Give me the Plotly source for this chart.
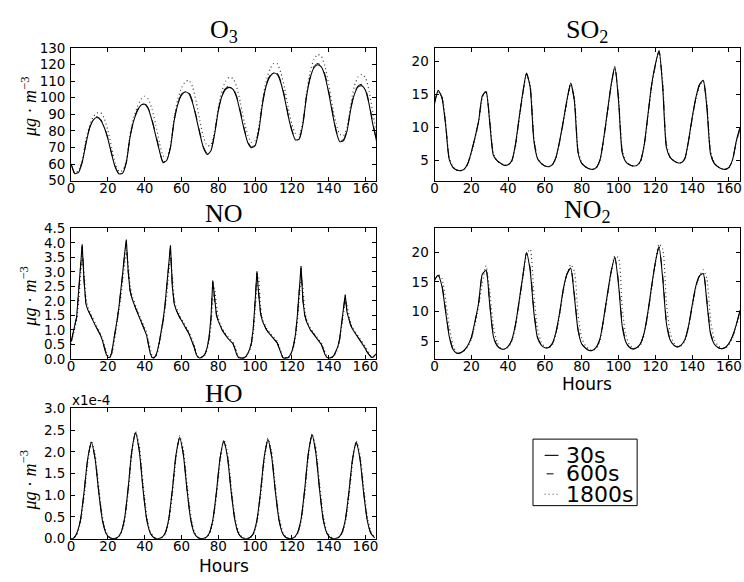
import plotly.graph_objects as go

# ---------------- data ----------------
hours_even = list(range(0, 167, 2))          # O3, SO2, NO2 sampling hours
hours_no = list(range(0, 167))               # NO sampling hours
hours_ho = [0] + list(range(1, 166, 2))      # HO sampling hours

o3_30s = [60, 54.2, 55, 61, 72, 81.5, 86.5, 88, 86.5, 82,
          75, 66, 58, 54, 54.5, 61, 76, 86, 92, 95.5,
          96, 93, 86, 77, 68, 60.8, 62.3, 70, 86, 96,
          101.5, 103.5, 102.5, 97, 88, 78, 69.5, 65.8, 68, 78,
          92, 101, 105, 106.2, 105, 100, 91, 81, 73, 69.8,
          71, 80, 96, 107, 112.5, 114.8, 114, 109, 100, 89,
          80, 74.5, 75, 84, 101, 112, 118, 119.8, 118.5, 113,
          103, 91, 80, 73.5, 74, 80, 93, 102, 106.5, 107.2,
          104.5, 96, 84, 74]
o3_600s = [60, 54.3, 55.6, 61.2, 72.3, 81.9, 87, 88.5, 87, 82.5,
           75.5, 66.5, 58.3, 54.2, 54.7, 61.2, 76.3, 86.4, 92.6, 96.1,
           96.6, 93.6, 86.6, 77.6, 68.5, 61.2, 62.5, 70.3, 86.3, 96.6,
           102.2, 104.3, 103.3, 97.8, 88.8, 78.8, 70.2, 66.3, 68.4, 78.4,
           92.5, 101.6, 105.8, 107, 105.8, 100.8, 91.8, 81.8, 73.7, 70.2,
           71.5, 80.4, 96.5, 107.6, 113.3, 115.6, 114.9, 109.9, 100.9, 89.8,
           80.7, 75.1, 75.5, 84.4, 101.5, 112.7, 118.8, 120.6, 119.4, 113.9,
           103.9, 91.9, 80.8, 74.2, 74.6, 80.5, 93.5, 102.7, 107.2, 108,
           105.3, 96.8, 84.8, 74.7]
o3_1800s = [60, 54.5, 56, 62, 74.5, 83, 88.5, 90.8, 91, 87.5,
            80, 70, 60.5, 55.5, 56, 62, 77.5, 88, 94.5, 99,
            100.8, 99, 93, 83.5, 73, 65, 64, 71, 88, 99,
            106, 109.5, 110.5, 106.5, 97.5, 86, 76, 71, 71.5, 80,
            94, 104, 110, 112.2, 111.5, 106.5, 97, 86, 77.5, 73,
            74, 82, 98, 110, 117, 120.5, 120.5, 115, 106, 94,
            84, 78.5, 78, 86, 103, 116, 123, 126, 125, 119,
            108, 95.5, 84.5, 78, 77, 82, 96, 107, 112.5, 114,
            112, 104, 91, 78]

so2_30s = [13.7, 15.6, 14.5, 10.5, 5.2, 4.0, 3.6, 3.5, 3.7, 4.5,
           6.3, 8.5, 11.0, 14.8, 15.4, 10.8, 5.8, 5.0, 4.6, 4.3,
           4.4, 5.0, 7.5, 11.5, 15.3, 18.2, 16.0, 8.0, 5.3, 4.6,
           4.2, 4.1, 4.4, 5.5, 8.0, 11.0, 14.2, 16.7, 14.0, 6.2,
           4.6, 4.1, 3.8, 3.7, 4.0, 5.2, 8.5, 12.5, 16.5, 19.2,
           14.0, 6.2, 4.8, 4.4, 4.2, 4.3, 5.0, 7.5, 12.0, 16.5,
           19.5, 21.6, 16.0, 7.0, 5.5, 5.0, 4.7, 4.7, 5.3, 8.0,
           11.5, 14.5, 16.5, 17.1, 13.0, 6.0, 4.6, 4.1, 3.8, 3.7,
           4.0, 5.2, 8.0, 10.0]
so2_600s = [13.6, 15.5, 14.6, 10.7, 5.3, 4.0, 3.6, 3.5, 3.7, 4.5,
            6.3, 8.5, 11.0, 14.7, 15.4, 11.0, 5.9, 5.0, 4.6, 4.3,
            4.4, 5.0, 7.4, 11.4, 15.2, 18.1, 16.1, 8.2, 5.3, 4.6,
            4.2, 4.1, 4.4, 5.5, 7.9, 10.9, 14.1, 16.6, 14.2, 6.4,
            4.6, 4.1, 3.8, 3.7, 4.0, 5.2, 8.4, 12.4, 16.4, 19.1,
            14.3, 6.4, 4.8, 4.4, 4.2, 4.3, 5.0, 7.4, 11.9, 16.4,
            19.4, 21.5, 16.3, 7.2, 5.5, 5.0, 4.7, 4.7, 5.3, 7.9,
            11.4, 14.4, 16.4, 17.0, 13.2, 6.2, 4.6, 4.1, 3.8, 3.7,
            4.0, 5.2, 7.9, 9.9]
so2_1800s = [13.5, 15.4, 14.8, 11.0, 5.5, 4.1, 3.6, 3.5, 3.7, 4.4,
             6.1, 8.3, 10.8, 14.5, 15.6, 11.4, 6.1, 5.0, 4.6, 4.3,
             4.4, 4.9, 7.2, 11.2, 15.0, 18.0, 16.5, 8.6, 5.4, 4.6,
             4.2, 4.1, 4.3, 5.4, 7.8, 10.8, 13.9, 16.5, 14.6, 6.7,
             4.7, 4.1, 3.8, 3.7, 3.9, 5.1, 8.3, 12.2, 16.2, 19.0,
             14.8, 6.7, 4.9, 4.4, 4.2, 4.3, 4.9, 7.3, 11.7, 16.2,
             19.3, 21.4, 16.8, 7.5, 5.6, 5.0, 4.7, 4.7, 5.2, 7.8,
             11.2, 14.2, 16.3, 17.0, 13.6, 6.5, 4.7, 4.1, 3.8, 3.7,
             3.9, 5.1, 7.8, 9.7]

no_30s = [0.6, 0.9, 1.2, 1.45, 2.3, 3.3, 3.95, 2.7, 1.9, 1.7,
          1.55, 1.42, 1.3, 1.17, 1.05, 0.93, 0.8, 0.63, 0.38, 0.16,
          0.05, 0.04, 0.2, 0.55, 0.95, 1.35, 1.8, 2.3, 2.95, 3.6,
          4.12, 3.0, 2.35, 2.1, 1.9, 1.75, 1.6, 1.45, 1.3, 1.18,
          1.02, 0.82, 0.5, 0.18, 0.04, 0.03, 0.1, 0.3, 0.6, 0.95,
          1.35, 1.85, 2.5, 3.3, 3.92, 2.5, 1.9, 1.7, 1.55, 1.42,
          1.32, 1.22, 1.1, 0.98, 0.87, 0.72, 0.58, 0.38, 0.15, 0.05,
          0.02, 0.05, 0.1, 0.2, 0.4, 0.75, 1.4, 2.7, 2.0, 1.5,
          1.3, 1.12, 1.0, 0.9, 0.8, 0.72, 0.65, 0.6, 0.52, 0.35,
          0.15, 0.04, 0.02, 0.02, 0.03, 0.08, 0.18, 0.32, 0.55, 1.05,
          1.95, 3.02, 2.2, 1.55, 1.3, 1.15, 1.02, 0.93, 0.85, 0.77,
          0.7, 0.63, 0.55, 0.38, 0.17, 0.04, 0.02, 0.02, 0.04, 0.12,
          0.25, 0.5, 0.85, 1.5, 2.4, 3.2, 2.0, 1.5, 1.28, 1.12,
          1.0, 0.92, 0.83, 0.74, 0.66, 0.6, 0.5, 0.33, 0.15, 0.05,
          0.02, 0.03, 0.06, 0.13, 0.25, 0.42, 0.7, 1.2, 1.85, 2.22,
          1.6, 1.35, 1.15, 1.02, 0.93, 0.82, 0.72, 0.64, 0.57, 0.48,
          0.35, 0.22, 0.12, 0.06, 0.05, 0.1, 0.18]
no_600s = [0.58, 0.88, 1.18, 1.43, 2.25, 3.25, 3.88, 2.75, 1.92, 1.71,
           1.56, 1.43, 1.31, 1.18, 1.06, 0.94, 0.81, 0.64, 0.4, 0.17,
           0.05, 0.04, 0.19, 0.53, 0.93, 1.33, 1.78, 2.27, 2.9, 3.55,
           4.05, 3.05, 2.37, 2.11, 1.91, 1.76, 1.61, 1.46, 1.31, 1.19,
           1.03, 0.83, 0.52, 0.19, 0.04, 0.03, 0.1, 0.29, 0.58, 0.93,
           1.33, 1.82, 2.46, 3.25, 3.85, 2.55, 1.92, 1.71, 1.56, 1.43,
           1.33, 1.23, 1.11, 0.99, 0.88, 0.73, 0.59, 0.39, 0.16, 0.05,
           0.02, 0.05, 0.1, 0.19, 0.39, 0.73, 1.37, 2.65, 2.05, 1.52,
           1.31, 1.13, 1.01, 0.91, 0.81, 0.73, 0.66, 0.61, 0.53, 0.36,
           0.16, 0.04, 0.02, 0.02, 0.03, 0.08, 0.17, 0.31, 0.53, 1.02,
           1.9, 2.96, 2.25, 1.57, 1.31, 1.16, 1.03, 0.94, 0.86, 0.78,
           0.71, 0.64, 0.56, 0.39, 0.18, 0.04, 0.02, 0.02, 0.04, 0.11,
           0.24, 0.48, 0.83, 1.47, 2.35, 3.14, 2.05, 1.52, 1.29, 1.13,
           1.01, 0.93, 0.84, 0.75, 0.67, 0.61, 0.51, 0.34, 0.16, 0.05,
           0.02, 0.03, 0.06, 0.13, 0.24, 0.41, 0.68, 1.17, 1.8, 2.18,
           1.63, 1.37, 1.16, 1.03, 0.94, 0.83, 0.73, 0.65, 0.58, 0.49,
           0.36, 0.23, 0.13, 0.06, 0.05, 0.1, 0.18]
no_1800s = [0.5, 0.75, 1.05, 1.35, 1.9, 2.9, 3.6, 3.0, 2.1, 1.8,
            1.62, 1.5, 1.38, 1.25, 1.12, 1.0, 0.88, 0.72, 0.48, 0.24,
            0.09, 0.04, 0.12, 0.4, 0.8, 1.2, 1.6, 2.1, 2.7, 3.3,
            3.75, 3.3, 2.55, 2.2, 2.0, 1.83, 1.68, 1.52, 1.38, 1.25,
            1.1, 0.92, 0.62, 0.28, 0.08, 0.03, 0.07, 0.22, 0.5, 0.85,
            1.22, 1.65, 2.2, 2.95, 3.5, 2.9, 2.05, 1.78, 1.62, 1.5,
            1.38, 1.28, 1.17, 1.05, 0.93, 0.8, 0.65, 0.45, 0.2, 0.07,
            0.03, 0.03, 0.07, 0.15, 0.32, 0.62, 1.1, 2.0, 2.45, 1.85,
            1.42, 1.2, 1.05, 0.95, 0.85, 0.77, 0.7, 0.64, 0.57, 0.43,
            0.22, 0.07, 0.03, 0.02, 0.02, 0.06, 0.14, 0.27, 0.47, 0.85,
            1.6, 2.5, 2.8, 1.75, 1.38, 1.2, 1.08, 0.98, 0.9, 0.82,
            0.74, 0.67, 0.6, 0.45, 0.24, 0.08, 0.03, 0.02, 0.03, 0.09,
            0.2, 0.42, 0.75, 1.3, 2.1, 2.8, 2.45, 1.65, 1.35, 1.18,
            1.06, 0.97, 0.88, 0.79, 0.7, 0.63, 0.55, 0.4, 0.2, 0.08,
            0.03, 0.02, 0.05, 0.11, 0.22, 0.37, 0.62, 1.05, 1.6, 2.0,
            1.85, 1.48, 1.22, 1.07, 0.97, 0.87, 0.77, 0.68, 0.6, 0.52,
            0.4, 0.27, 0.15, 0.08, 0.05, 0.08, 0.15]

no2_30s = [15.3, 16.1, 14.3, 10.0, 5.8, 3.6, 2.95, 3.0, 3.4, 4.2,
           5.6, 8.3, 11.5, 16.3, 16.9, 11.2, 5.8, 4.2, 3.7, 3.65,
           4.1, 5.2, 7.8, 11.8, 16.0, 19.9, 16.8, 9.8, 5.5, 4.3,
           3.85, 3.9, 4.6, 6.5, 9.8, 13.8, 16.3, 17.3, 12.5, 6.8,
           4.5, 3.8, 3.4, 3.45, 4.0, 5.5, 9.0, 13.0, 16.8, 19.1,
           14.5, 7.5, 4.8, 3.9, 3.65, 3.9, 4.6, 6.5, 10.0, 14.3,
           18.3, 20.9, 15.5, 8.0, 5.2, 4.3, 4.0, 4.3, 5.2, 7.5,
           11.0, 14.3, 16.0, 16.4, 11.5, 6.2, 4.5, 3.9, 3.7, 3.9,
           4.6, 5.9, 7.8, 10.2]
no2_600s = [15.3, 16.1, 14.5, 10.3, 6.0, 3.7, 2.95, 3.0, 3.4, 4.2,
            5.5, 8.2, 11.4, 16.2, 17.0, 11.4, 6.0, 4.3, 3.7, 3.65,
            4.1, 5.1, 7.7, 11.7, 15.9, 19.9, 17.3, 10.2, 5.7, 4.4,
            3.9, 3.9, 4.5, 6.4, 9.7, 13.7, 16.3, 17.4, 12.9, 7.0,
            4.6, 3.8, 3.4, 3.45, 4.0, 5.4, 8.9, 12.9, 16.7, 19.1,
            14.9, 7.8, 4.9, 3.9, 3.65, 3.9, 4.6, 6.4, 9.9, 14.2,
            18.2, 20.9, 16.0, 8.3, 5.3, 4.3, 4.0, 4.3, 5.1, 7.4,
            10.9, 14.2, 16.0, 16.5, 11.9, 6.4, 4.6, 3.9, 3.7, 3.9,
            4.6, 5.8, 7.7, 10.1]
no2_1800s = [15.2, 16.2, 15.6, 12.0, 7.5, 4.3, 3.1, 3.0, 3.3, 4.0,
             5.3, 7.8, 11.0, 14.8, 17.7, 13.4, 7.5, 4.8, 3.9, 3.6,
             3.9, 5.0, 7.4, 11.3, 15.5, 19.6, 20.5, 13.0, 7.0, 4.8,
             4.0, 3.85, 4.4, 6.2, 9.4, 13.4, 16.2, 17.9, 16.8, 9.5,
             5.5, 4.2, 3.6, 3.4, 3.8, 5.2, 8.6, 12.6, 16.5, 19.4,
             19.0, 10.5, 6.0, 4.3, 3.8, 3.8, 4.4, 6.2, 9.6, 14.0,
             18.0, 21.4, 20.5, 11.5, 6.5, 4.7, 4.1, 4.2, 5.0, 7.2,
             10.6, 14.0, 16.0, 17.0, 15.5, 8.5, 5.3, 4.2, 3.8, 3.8,
             4.4, 5.6, 7.5, 9.8]

# HO values in units of 1e-4 ug/m3
ho_30s = [0.0, 0.0, 0.12, 0.42, 1.07, 1.84, 2.22, 1.84, 1.07, 0.42,
          0.12, 0.02, 0.0, 0.02, 0.13, 0.46, 1.17, 2.03, 2.44, 2.03,
          1.17, 0.46, 0.13, 0.02, 0.0, 0.02, 0.12, 0.44, 1.12, 1.93,
          2.33, 1.93, 1.12, 0.44, 0.12, 0.02, 0.0, 0.02, 0.12, 0.43,
          1.08, 1.87, 2.25, 1.87, 1.08, 0.43, 0.12, 0.02, 0.0, 0.02,
          0.12, 0.43, 1.09, 1.89, 2.28, 1.89, 1.09, 0.43, 0.12, 0.02,
          0.0, 0.02, 0.13, 0.45, 1.15, 1.98, 2.39, 1.98, 1.15, 0.45,
          0.13, 0.02, 0.0, 0.02, 0.12, 0.42, 1.07, 1.84, 2.22, 1.84,
          1.07, 0.42, 0.12, 0.02]
ho_600s = [0.0, 0.0, 0.11, 0.41, 1.06, 1.83, 2.21, 1.85, 1.09, 0.43,
           0.12, 0.02, 0.0, 0.02, 0.12, 0.45, 1.16, 2.02, 2.43, 2.05,
           1.19, 0.47, 0.13, 0.02, 0.0, 0.02, 0.11, 0.43, 1.11, 1.92,
           2.32, 1.95, 1.14, 0.45, 0.12, 0.02, 0.0, 0.02, 0.11, 0.42,
           1.07, 1.86, 2.24, 1.89, 1.1, 0.44, 0.12, 0.02, 0.0, 0.02,
           0.11, 0.42, 1.08, 1.88, 2.27, 1.91, 1.11, 0.44, 0.12, 0.02,
           0.0, 0.02, 0.12, 0.44, 1.14, 1.97, 2.38, 2.0, 1.17, 0.46,
           0.13, 0.02, 0.0, 0.02, 0.11, 0.41, 1.06, 1.83, 2.21, 1.86,
           1.09, 0.43, 0.12, 0.02]
ho_1800s = [0.0, 0.0, 0.09, 0.36, 0.95, 1.75, 2.25, 1.95, 1.2, 0.51,
            0.16, 0.03, 0.0, 0.01, 0.1, 0.39, 1.05, 1.93, 2.48, 2.15,
            1.32, 0.56, 0.17, 0.04, 0.0, 0.01, 0.09, 0.37, 1.0, 1.84,
            2.37, 2.05, 1.26, 0.54, 0.16, 0.03, 0.0, 0.01, 0.09, 0.36,
            0.97, 1.78, 2.28, 1.98, 1.22, 0.52, 0.16, 0.03, 0.0, 0.01,
            0.09, 0.36, 0.98, 1.8, 2.31, 2.0, 1.23, 0.52, 0.16, 0.03,
            0.0, 0.01, 0.1, 0.38, 1.03, 1.89, 2.42, 2.1, 1.29, 0.55,
            0.17, 0.04, 0.0, 0.01, 0.09, 0.36, 0.95, 1.75, 2.25, 1.95,
            1.2, 0.51, 0.16, 0.03]

series_labels = ["30s", "600s", "1800s"]

# ---------------- layout helpers ----------------
W, H = 744, 582
def px(x):
    return x / W
def py(y):
    return 1 - y / H

XL = [px(67.7), px(375.5)]
XR = [px(434.0), px(742.0)]
Y1 = [py(177.5), py(41.0)]
Y2 = [py(360.7), py(226.7)]
Y3 = [py(545.7), py(411.7)]

panels = [
    dict(title="O<sub>3</sub>", hours=hours_even, data=(o3_30s, o3_600s, o3_1800s),
         dx=XL, dy=Y1, yr=[50, 130], dtick=10, fmt="d", shape="spline",
         ttop=4.7, ylab=102),
    dict(title="SO<sub>2</sub>", hours=hours_even, data=(so2_30s, so2_600s, so2_1800s),
         dx=XR, dy=Y1, yr=[2, 22], dtick=5, fmt="d", shape="spline",
         ttop=4.7, ylab=None),
    dict(title="NO", hours=hours_no, data=(no_30s, no_600s, no_1800s),
         dx=XL, dy=Y2, yr=[0, 4.5], dtick=0.5, fmt=".1f", shape="linear",
         ttop=194.5, ylab=297),
    dict(title="NO<sub>2</sub>", hours=hours_even, data=(no2_30s, no2_600s, no2_1800s),
         dx=XR, dy=Y2, yr=[2, 24], dtick=5, fmt="d", shape="spline",
         ttop=190.0, ylab=None),
    dict(title="HO", hours=hours_ho, data=(ho_30s, ho_600s, ho_1800s),
         dx=XL, dy=Y3, yr=[0, 3.0], dtick=0.5, fmt=".1f", shape="spline",
         ttop=379.5, ylab=486),
]

line_styles = [
    dict(color="black", width=1.1, dash="solid"),
    dict(color="black", width=1.0, dash="dash"),
    dict(color="#3a3a3a", width=1.2, dash="1px,3px"),
]

fig = go.Figure()
annotations = []
shapes = []
tick_font = dict(family="DejaVu Sans", size=13.5, color="black")

for i, p in enumerate(panels):
    n = "" if i == 0 else str(i + 1)
    xa, ya = "x" + n, "y" + n
    for k in (2, 1, 0):
        fig.add_trace(go.Scatter(
            x=p["hours"], y=p["data"][k], mode="lines", name=series_labels[k],
            line=dict(shape=p["shape"], smoothing=0.6 if p["shape"] == "spline" else None,
                      **line_styles[k]),
            xaxis=xa, yaxis=ya, showlegend=False, hoverinfo="skip"))
    common = dict(showline=True, linecolor="black", linewidth=1, mirror="ticks",
                  ticks="inside", ticklen=4, tickcolor="black", tickwidth=1,
                  showgrid=False, zeroline=False, tickfont=tick_font)
    fig.layout["xaxis" + n] = dict(domain=p["dx"], range=[0, 166], dtick=20, tick0=0,
                                   anchor=ya, ticklabelstandoff=-5, **common)
    fig.layout["yaxis" + n] = dict(domain=p["dy"], range=p["yr"], dtick=p["dtick"],
                                   tickformat=p["fmt"], anchor=xa, ticklabelstandoff=2,
                                   **common)
    # panel title
    annotations.append(dict(text=p["title"], xref="paper", yref="paper",
                            x=(p["dx"][0] + p["dx"][1]) / 2, y=py(p["ttop"]),
                            xanchor="center", yanchor="top", showarrow=False,
                            font=dict(family="Liberation Serif", size=26, color="black")))
    if p["ylab"] is not None:
        annotations.append(dict(text="<i>μg</i> · <i>m</i><sup>−3</sup>", xref="paper",
                                yref="paper", x=px(25), y=py(p["ylab"]),
                                xanchor="center", yanchor="middle", textangle=-90,
                                showarrow=False,
                                font=dict(family="Liberation Serif", size=18, color="black")))

hours_font = dict(family="DejaVu Sans", size=17, color="black")
annotations.append(dict(text="Hours", xref="paper", yref="paper", x=(XR[0] + XR[1]) / 2,
                        y=py(387), xanchor="center", yanchor="middle", showarrow=False,
                        font=hours_font))
annotations.append(dict(text="Hours", xref="paper", yref="paper", x=(XL[0] + XL[1]) / 2,
                        y=py(574), xanchor="center", yanchor="middle", showarrow=False,
                        font=hours_font))
annotations.append(dict(text="x1e-4", xref="paper", yref="paper", x=px(67), y=py(403),
                        xanchor="left", yanchor="middle", showarrow=False,
                        font=tick_font))

# legend drawn as a boxed key
leg_font = dict(family="DejaVu Sans", size=22, color="black")
shapes.append(dict(type="rect", xref="paper", yref="paper", x0=px(533.3), x1=px(638.3),
                   y0=py(511.7), y1=py(443.3), line=dict(color="black", width=1),
                   fillcolor="white"))
leg_rows = [(460, 545, 559), (479, 547, 554), (500, 545, 558)]
for (yy, xa0, xa1), lab, st in zip(leg_rows, series_labels, line_styles):
    shapes.append(dict(type="line", xref="paper", yref="paper", x0=px(xa0), x1=px(xa1),
                       y0=py(yy), y1=py(yy),
                       line=dict(color=st["color"], width=st["width"],
                                 dash="solid" if st["dash"] == "dash" else st["dash"])))
    annotations.append(dict(text=lab, xref="paper", yref="paper", x=px(565), y=py(yy),
                            xanchor="left", yanchor="middle", showarrow=False, font=leg_font))

fig.update_layout(width=W, height=H, margin=dict(l=0, r=0, t=0, b=0),
                  paper_bgcolor="white", plot_bgcolor="white",
                  showlegend=False, annotations=annotations, shapes=shapes)

fig.write_html("out.html", config={"displayModeBar": False},
               post_script="document.body.style.margin='0px';document.body.style.overflow='hidden';")
